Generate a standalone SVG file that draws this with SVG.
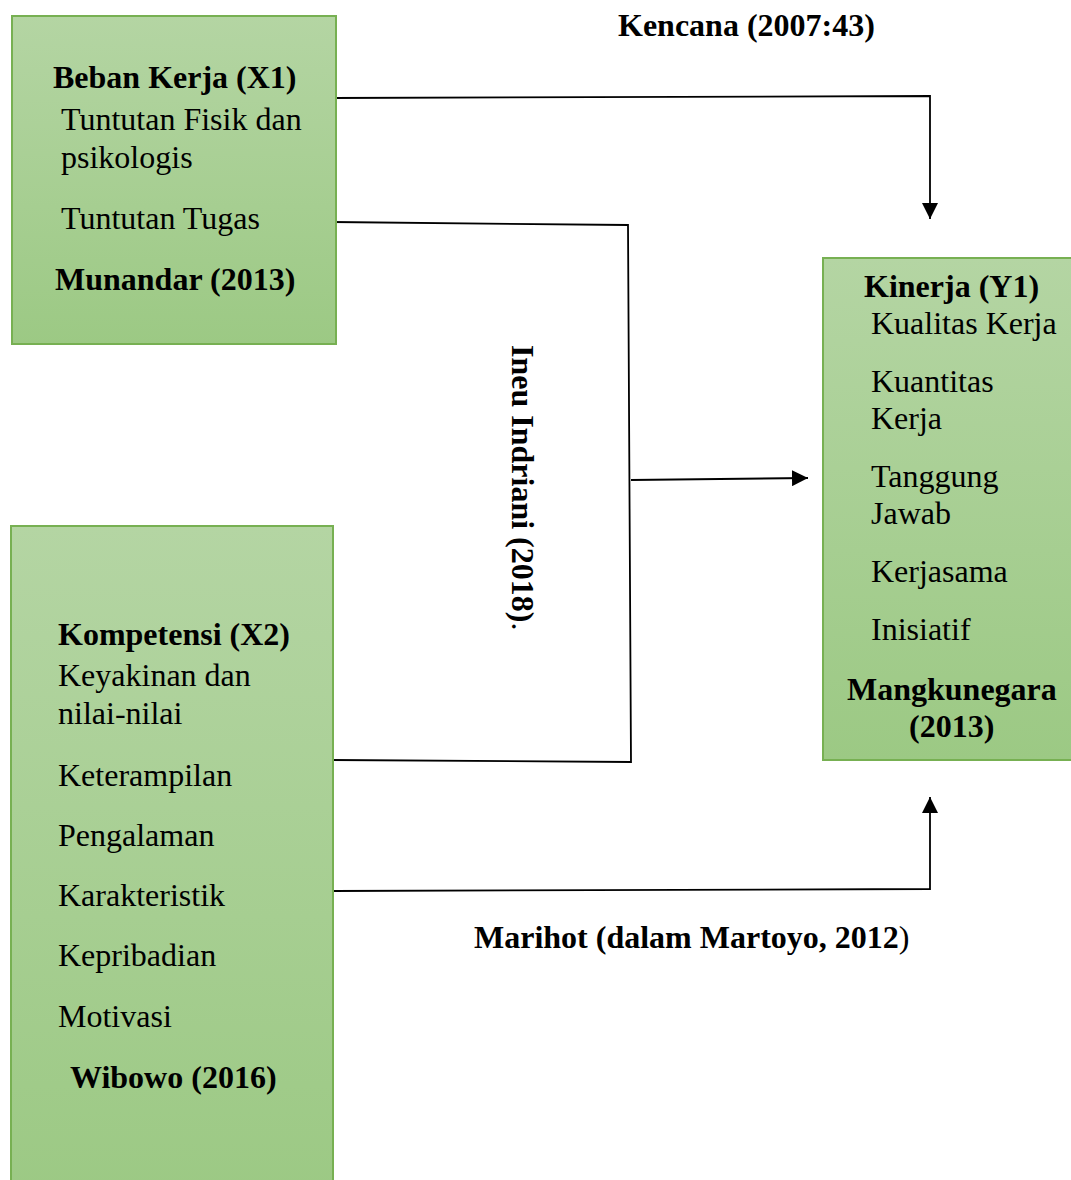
<svg xmlns="http://www.w3.org/2000/svg" width="1071" height="1180" viewBox="0 0 1071 1180">
<defs>
<linearGradient id="g" x1="0" y1="0" x2="0" y2="1">
<stop offset="0" stop-color="#b4d5a3"/>
<stop offset="1" stop-color="#9cc984"/>
</linearGradient>
<marker id="ah" viewBox="0 0 10 10" refX="10" refY="5" markerWidth="16" markerHeight="16" markerUnits="userSpaceOnUse" orient="auto">
<path d="M0,0 L10,5 L0,10 z" fill="#000"/>
</marker>
<style>
.box{fill:url(#g);stroke:#77b052;stroke-width:2}
text{font-family:"Liberation Serif","Times New Roman",serif;font-size:32px;fill:#000}
.b{font-weight:bold}
.c{fill:none;stroke:#000;stroke-width:1.8}
</style>
</defs>
<rect width="1071" height="1180" fill="#fff"/>
<g id="connectors">
<polyline class="c" points="332,98 930,96 930,219" marker-end="url(#ah)"/>
<polyline class="c" points="332,222 628,225 631,762 332,760"/>
<polyline class="c" points="631,480 808,478" marker-end="url(#ah)"/>
<polyline class="c" points="333,891 930,889 930,797" marker-end="url(#ah)"/>
</g>
<g id="beban-kerja">
<rect class="box" x="12" y="16" width="324" height="328"/>
<text class="b" x="53" y="88">Beban Kerja (X1)</text>
<text x="61" y="130">Tuntutan Fisik dan</text>
<text x="61" y="168">psikologis</text>
<text x="61" y="229">Tuntutan Tugas</text>
<text class="b" x="55" y="290">Munandar (2013)</text>
</g>
<g id="kompetensi">
<rect class="box" x="11" y="526" width="322" height="670"/>
<text class="b" x="58" y="645">Kompetensi (X2)</text>
<text x="58" y="686">Keyakinan dan</text>
<text x="58" y="724">nilai-nilai</text>
<text x="58" y="786">Keterampilan</text>
<text x="58" y="846">Pengalaman</text>
<text x="58" y="906">Karakteristik</text>
<text x="58" y="966">Kepribadian</text>
<text x="58" y="1027">Motivasi</text>
<text class="b" x="70" y="1088">Wibowo (2016)</text>
</g>
<g id="kinerja">
<rect class="box" x="823" y="258" width="260" height="502"/>
<text class="b" x="864" y="297">Kinerja (Y1)</text>
<text x="871" y="334">Kualitas Kerja</text>
<text x="871" y="392">Kuantitas</text>
<text x="871" y="429">Kerja</text>
<text x="871" y="487">Tanggung</text>
<text x="871" y="524">Jawab</text>
<text x="871" y="582">Kerjasama</text>
<text x="871" y="640">Inisiatif</text>
<text class="b" x="847" y="700">Mangkunegara</text>
<text class="b" x="909" y="737">(2013)</text>
</g>
<g id="labels">
<text class="b" x="618" y="36">Kencana (2007:43)</text>
<text class="b" x="474" y="948">Marihot (dalam Martoyo, 2012<tspan font-weight="normal">)</tspan></text>
<text class="b" transform="translate(512,345) rotate(90)">Ineu Indriani (2018)<tspan font-weight="normal">.</tspan></text>
</g>
</svg>
